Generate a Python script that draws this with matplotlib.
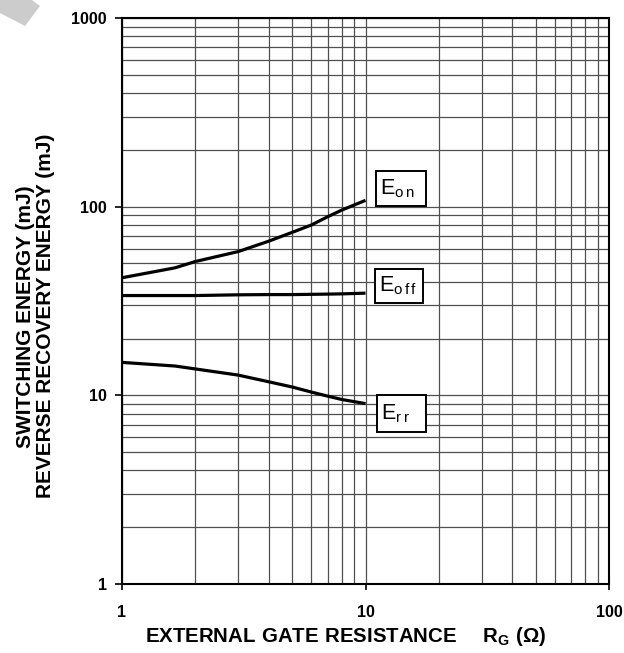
import matplotlib
matplotlib.use("Agg")
import matplotlib.pyplot as plt
from matplotlib.patches import Polygon, Rectangle

plt.rcParams['font.family'] = ['Liberation Sans', 'DejaVu Sans']
plt.rcParams['mathtext.fontset'] = 'custom'
plt.rcParams['mathtext.rm'] = 'Liberation Sans'
plt.rcParams['mathtext.bf'] = 'Liberation Sans:bold'

# curves
rg = [1.0, 1.65, 2.0, 3.0, 4.0, 5.0, 6.0, 7.0, 8.0, 10.0]
e_on = [42.0, 47.4, 51.2, 57.8, 65.6, 73.1, 80.0, 88.5, 96.0, 108.0]
e_off = [33.8, 33.8, 33.8, 34.1, 34.2, 34.2, 34.3, 34.4, 34.5, 34.8]
e_rr = [14.95, 14.3, 13.8, 12.8, 11.8, 11.07, 10.4, 9.9, 9.5, 9.04]

etiquetas = ['E$_{\\rm o\\,n}$', 'E$_{\\rm o\\,f\\,f}$', 'E$_{\\rm r\\,r}$']
# label boxes (x0, x1, y0, y1) in data units
cajas = [(11.0, 17.7, 101.2, 155.0),
         (10.9, 17.3, 30.7, 47.0),
         (11.1, 17.7, 6.37, 10.0)]

fig = plt.figure(figsize=(6.24, 6.53), dpi=100)
ax = fig.add_axes([0.1955, 0.1057, 0.7805, 0.8667])

# grey mark in the top-left corner
fig.patches.append(Polygon([(0, 653), (32, 653), (40, 647), (25, 627), (0, 640)],
                           closed=True, transform=None, facecolor='#cccccc',
                           edgecolor='none'))

for serie in [e_on, e_off, e_rr]:
    ax.plot(rg, serie, color='black', lw=2.3, solid_capstyle='butt',
            solid_joinstyle='round', zorder=3)

for txt, (x0, x1, y0, y1) in zip(etiquetas, cajas):
    ax.add_patch(Rectangle((x0, y0), x1 - x0, y1 - y0, facecolor='white',
                           edgecolor='black', lw=1.4, zorder=4))
    ax.text(x0 * 1.045, (y0 * y1) ** 0.5, txt, fontsize=15.5, ha='left',
            va='center', zorder=5)

ax.set_xscale('log')
ax.set_yscale('log')
ax.set_xlim(1, 100)
ax.set_ylim(1, 1000)
ax.grid(True, which='both', color='#505050', lw=0.9)
ax.set_xticks([1, 10, 100])
ax.set_xticklabels(['1', '10', '100'])
ax.set_yticks([1, 10, 100, 1000])
ax.set_yticklabels(['1', '10', '100', '1000'])
ax.tick_params(which='minor', length=0)
ax.tick_params(axis='y', which='major', length=5, width=1.2, labelsize=11.5, pad=6)
ax.tick_params(axis='x', which='major', length=4, width=1.2, labelsize=11.5, pad=11)
for lab in ax.get_xticklabels() + ax.get_yticklabels():
    lab.set_fontweight('bold')
for sp in ax.spines.values():
    sp.set_linewidth(1.5)

fig.text(0.554, 1 - 636 / 653,
         r'$\mathbf{EXTERNAL\ GATE\ RESISTANCE\ \ \ \ R_{G}\ (\Omega)}$',
         fontsize=14.7, ha='center', va='center')
ax.set_ylabel('SWITCHING ENERGY (mJ)\nREVERSE RECOVERY ENERGY (mJ)',
              fontsize=15, fontweight='bold', linespacing=1.05)
ax.yaxis.set_label_coords(-0.1376, 0.473)

fig.savefig('out.png', dpi=100)
